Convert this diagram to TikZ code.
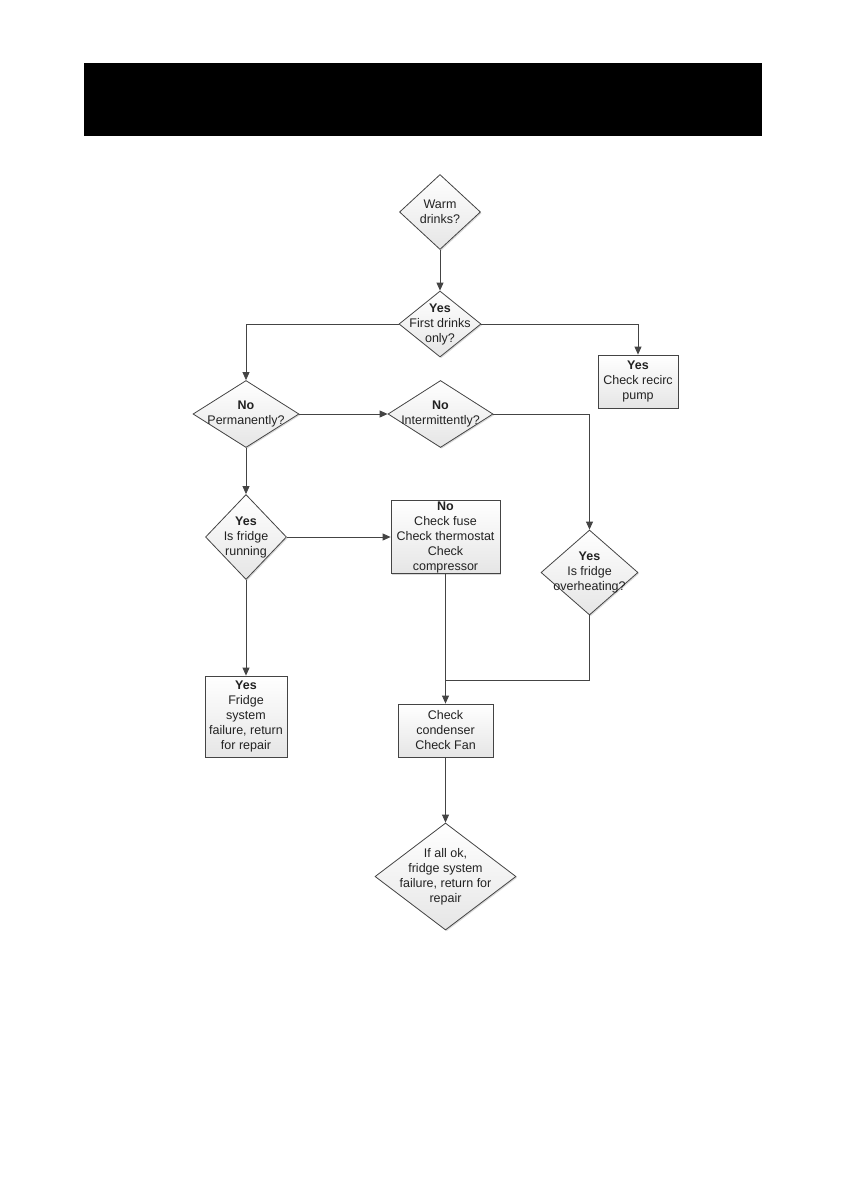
\documentclass[tikz,border=0pt]{standalone}
\usepackage{fontspec}
\setmainfont{Liberation Sans}
\usepackage{xcolor}
\usepackage{tikz}
\usetikzlibrary{shapes.geometric,arrows.meta,shadows}

\definecolor{linegray}{HTML}{444444}
\definecolor{textgray}{HTML}{222222}

\tikzset{
  base/.style={draw=linegray, line width=0.8pt, top color=white, bottom color=gray!20,
    inner sep=0pt, drop shadow={shadow xshift=1.2pt, shadow yshift=-1.2pt, opacity=0.3}},
  dia/.style={base, diamond},
  box/.style={base, rectangle},
  txt/.style={align=center, text=textgray, font=\fontsize{12.5}{15}\selectfont},
  line/.style={draw=linegray, line width=0.8pt},
  arr/.style={line, -{Triangle[length=8pt,width=7pt]}}
}

\begin{document}
\begin{tikzpicture}[x=1pt, y=-1pt]
     \useasboundingbox (0,0) rectangle (842,1191);
     \fill[black] (84,63) rectangle (762,136);

     \node[dia, minimum width=81, minimum height=75, label={[txt]center:{Warm\\drinks?}}] (warm) at (440,212) {};
     \node[dia, minimum width=82, minimum height=66, label={[txt]center:{\textbf{Yes}\\First drinks\\only?}}] (first) at (440,324) {};
     \node[box, minimum width=80, minimum height=53, label={[txt]center:{\textbf{Yes}\\Check recirc\\pump}}] (pump) at (638,381.5) {};
     \node[dia, minimum width=106, minimum height=67, label={[txt]center:{\textbf{No}\\Permanently?}}] (perm) at (246,414) {};
     \node[dia, minimum width=105, minimum height=67, label={[txt]center:{\textbf{No}\\Intermittently?}}] (inter) at (440.5,414) {};
     \node[dia, minimum width=81, minimum height=85, label={[txt]center:{\textbf{Yes}\\Is fridge\\running}}] (run) at (246,537) {};
     \node[box, minimum width=109, minimum height=73, label={[txt]center:{\textbf{No}\\Check fuse\\Check thermostat\\Check\\compressor}}] (fuse) at (445.5,537) {};
     \node[dia, minimum width=97, minimum height=85, label={[txt]center:{\textbf{Yes}\\Is fridge\\overheating?}}] (hot) at (589.5,572.5) {};
     \node[box, minimum width=82, minimum height=81, label={[txt]center:{\textbf{Yes}\\Fridge\\system\\failure, return\\for repair}}] (fail) at (246,716.5) {};
     \node[box, minimum width=95, minimum height=53, label={[txt]center:{Check\\condenser\\Check Fan}}] (cond) at (445.5,730.5) {};
     \node[dia, minimum width=141, minimum height=107, label={[txt]center:{If all ok,\\fridge system\\failure, return for\\repair}}] (ok) at (445.5,876.5) {};
     \coordinate (j) at (445.5,680);

     \draw[arr] (warm) -- (first);
     \draw[arr] (first.west) -| (perm.north);
     \draw[arr] (first.east) -| (pump.north);
     \draw[arr] (perm.east) -- (inter.west);
     \draw[arr] (inter.east) -| (hot.north);
     \draw[arr] (perm.south) -- (run.north);
     \draw[arr] (run.east) -- (fuse.west);
     \draw[arr] (run.south) -- (fail.north);
     \draw[arr] (fuse.south) -- (cond.north);
     \draw[line] (hot.south) |- (j);
     \draw[arr] (cond.south) -- (ok.north);
\end{tikzpicture}
\end{document}
